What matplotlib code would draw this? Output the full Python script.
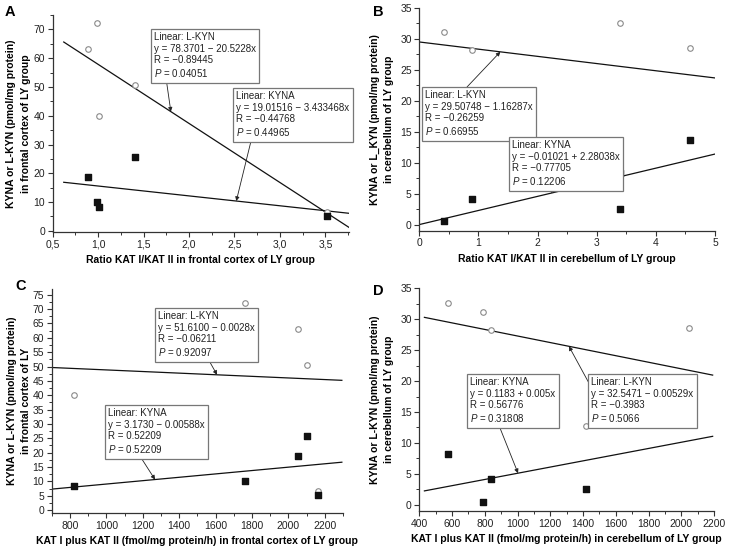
import numpy as np
import matplotlib
matplotlib.use("Agg")
import matplotlib.pyplot as plt
from matplotlib.ticker import MultipleLocator, FuncFormatter

plt.rcParams['font.family'] = ['Liberation Sans', 'DejaVu Sans']
plt.rcParams['mathtext.fontset'] = 'custom'
plt.rcParams['mathtext.rm'] = 'Liberation Sans'
plt.rcParams['mathtext.it'] = 'Liberation Sans:italic'

# ---------------- data ----------------
# frontal cortex (panels A, C)
fc_ratio = [0.885, 0.99, 1.01, 1.405, 3.52]
fc_kat = [2055, 1762, 823, 2104, 2160]
fc_kyna = [18.8, 10.0, 8.3, 25.7, 5.1]
fc_lkyn = [63.1, 72.1, 40.0, 50.6, 6.6]
# cerebellum (panels B, D)
cb_ratio = [3.39, 0.42, 0.885, 3.39, 4.58]
cb_kat = [578, 790, 838, 1420, 2045]
cb_kyna = [8.3, 0.5, 4.2, 2.5, 13.7]
cb_lkyn = [32.6, 31.1, 28.2, 12.8, 28.5]

# fitted lines as drawn (intercept, slope)
fitA_lkyn = (78.3701, -20.5228)
fitA_kyna = (19.01516, -3.433468)
fitB_lkyn = (29.50748, -1.16287)
fitB_kyna = (-0.01021, 2.28038)
fitC_lkyn = (51.6100, -0.0028)
fitC_kyna = (3.1730, 0.00588)
fitD_lkyn = (32.5471, -0.00529)
fitD_kyna = (0.1183, 0.005)

# annotation texts
txtA_lkyn = "Linear: L-KYN\ny = 78.3701 \u2212 20.5228x\nR = \u22120.89445\n$P$ = 0.04051"
txtA_kyna = "Linear: KYNA\ny = 19.01516 \u2212 3.433468x\nR = \u22120.44768\n$P$ = 0.44965"
txtB_lkyn = "Linear: L-KYN\ny = 29.50748 \u2212 1.16287x\nR = \u22120.26259\n$P$ = 0.66955"
txtB_kyna = "Linear: KYNA\ny = \u22120.01021 + 2.28038x\nR = \u22120.77705\n$P$ = 0.12206"
txtC_lkyn = "Linear: L-KYN\ny = 51.6100 \u2212 0.0028x\nR = \u22120.06211\n$P$ = 0.92097"
txtC_kyna = "Linear: KYNA\ny = 3.1730 \u2212 0.00588x\nR = 0.52209\n$P$ = 0.52209"
txtD_kyna = "Linear: KYNA\ny = 0.1183 + 0.005x\nR = 0.56776\n$P$ = 0.31808"
txtD_lkyn = "Linear: L-KYN\ny = 32.5471 \u2212 0.00529x\nR = \u22120.3983\n$P$ = 0.5066"

# ---------------- figure ----------------
W, H = 729, 548
fig = plt.figure(figsize=(W / 100, H / 100), dpi=100)

def add_ax(x0, x1, ytop, ybot):
    return fig.add_axes([x0 / W, 1 - ybot / H, (x1 - x0) / W, (ybot - ytop) / H])

def fpx(x, y):
    return (x / W, 1 - y / H)

AXC = '#333333'
FS = 7

def style(ax, xlim, ylim, xmaj, xmin, ymaj, ymin, xlabel, ylabel, comma=False, ypad=2):
    ax.set_xlim(*xlim)
    ax.set_ylim(*ylim)
    for s in ['top', 'right']:
        ax.spines[s].set_visible(False)
    for s in ['left', 'bottom']:
        ax.spines[s].set_color(AXC)
        ax.spines[s].set_linewidth(0.9)
    ax.xaxis.set_major_locator(MultipleLocator(xmaj))
    ax.xaxis.set_minor_locator(MultipleLocator(xmin))
    ax.yaxis.set_major_locator(MultipleLocator(ymaj))
    ax.yaxis.set_minor_locator(MultipleLocator(ymin))
    ax.tick_params(which='major', direction='out', length=3.5, width=0.8, color=AXC,
                   labelsize=FS + 0.5, labelcolor='#222222', pad=2)
    ax.tick_params(which='minor', direction='out', length=2, width=0.7, color=AXC)
    if comma:
        ax.xaxis.set_major_formatter(FuncFormatter(lambda v, p: f"{v:.1f}".replace('.', ',')))
    ax.set_xlabel(xlabel, fontsize=FS + 0.5, fontweight='bold', labelpad=4)
    ax.set_ylabel(ylabel, fontsize=FS + 0.5, fontweight='bold', labelpad=ypad, linespacing=1.55)

def fit_line(ax, xs, fit):
    xs = np.asarray(xs, dtype=float)
    rng = xs.max() - xs.min()
    xx = np.array([xs.min() - 0.1 * rng, xs.max() + 0.1 * rng])
    ax.plot(xx, fit[0] + fit[1] * xx, color='#111111', lw=0.9, zorder=2)

def points(ax, x, kyna, lkyn):
    ax.scatter(x, lkyn, s=16, marker='o', facecolors='white', edgecolors='#8a8a8a',
               linewidths=0.8, zorder=3)
    ax.scatter(x, kyna, s=15, marker='s', color='#111111', zorder=4)

def box(txt, x, y):
    fig.text(*fpx(x, y), txt, fontsize=FS, ha='left', va='top', color='#222222',
             linespacing=1.2,
             bbox=dict(boxstyle='square,pad=0.35', fc='white', ec='#777777', lw=0.9), zorder=5)

def arrow(ax, start_px, xdata, fit):
    ax.annotate('', xy=(xdata, fit[0] + fit[1] * xdata), xycoords='data',
                xytext=fpx(*start_px), textcoords='figure fraction',
                arrowprops=dict(arrowstyle='-|>', color='#222222', lw=0.6,
                                mutation_scale=6, shrinkA=0, shrinkB=0), zorder=6)

# Panel A
axA = add_ax(52.7, 349, 15, 232.3)
style(axA, (0.5, 3.76), (-0.5, 75), 0.5, 0.25, 10, 5,
      "Ratio KAT I/KAT II in frontal cortex of LY group",
      "KYNA or L-KYN (pmol/mg protein)\nin frontal cortex of LY group", comma=True, ypad=2)
fit_line(axA, fc_ratio, fitA_lkyn)
fit_line(axA, fc_ratio, fitA_kyna)
points(axA, fc_ratio, fc_kyna, fc_lkyn)
box(txtA_lkyn, 154, 32)
box(txtA_kyna, 236, 91)
arrow(axA, (166, 78), 1.80, fitA_lkyn)
arrow(axA, (252, 137), 2.52, fitA_kyna)

# Panel B
axB = add_ax(419.3, 715, 8, 230.7)
style(axB, (0, 5), (-1, 35), 1, 0.5, 5, 2.5,
      "Ratio KAT I/KAT II in cerebellum of LY group",
      "KYNA or L_KYN (pmol/mg protein)\nin cerebellum of LY group", ypad=4)
fit_line(axB, cb_ratio, fitB_lkyn)
fit_line(axB, cb_ratio, fitB_kyna)
points(axB, cb_ratio, cb_kyna, cb_lkyn)
box(txtB_lkyn, 425, 90)
box(txtB_kyna, 512, 140)
arrow(axB, (467, 87), 1.37, fitB_lkyn)
arrow(axB, (563, 172), 2.23, fitB_kyna)

# Panel C
axC = add_ax(51.8, 343, 289, 512.9)
style(axC, (700, 2300), (-1, 77), 200, 100, 5, 2.5,
      "KAT I plus KAT II (fmol/mg protein/h) in frontal cortex of LY group",
      "KYNA or L-KYN (pmol/mg protein)\nin frontal cortex of LY", ypad=1)
fit_line(axC, fc_kat, fitC_lkyn)
fit_line(axC, fc_kat, fitC_kyna)
points(axC, fc_kat, fc_kyna, fc_lkyn)
box(txtC_lkyn, 158, 311)
box(txtC_kyna, 108, 408)
arrow(axC, (207, 357), 1608, fitC_lkyn)
arrow(axC, (138, 453), 1267, fitC_kyna)

# Panel D
axD = add_ax(419.3, 714, 288, 511.2)
style(axD, (400, 2200), (-1, 35), 200, 100, 5, 2.5,
      "KAT I plus KAT II (fmol/mg protein/h) in cerebellum of LY group",
      "KYNA or L-KYN (pmol/mg protein)\nin cerebellum of LY group", ypad=4)
fit_line(axD, cb_kat, fitD_lkyn)
fit_line(axD, cb_kat, fitD_kyna)
points(axD, cb_kat, cb_kyna, cb_lkyn)
box(txtD_kyna, 470, 377)
box(txtD_lkyn, 591, 377)
arrow(axD, (498, 423), 1003, fitD_kyna)
arrow(axD, (590, 385), 1314, fitD_lkyn)

# panel letters
for letter, (x, y) in zip("ABCD", [(5, 16), (373, 16.5), (15, 290), (373, 295)]):
    fig.text(*fpx(x, y), letter, fontsize=10.5, fontweight='bold', ha='left', va='baseline')

fig.savefig("out.png", dpi=100)
